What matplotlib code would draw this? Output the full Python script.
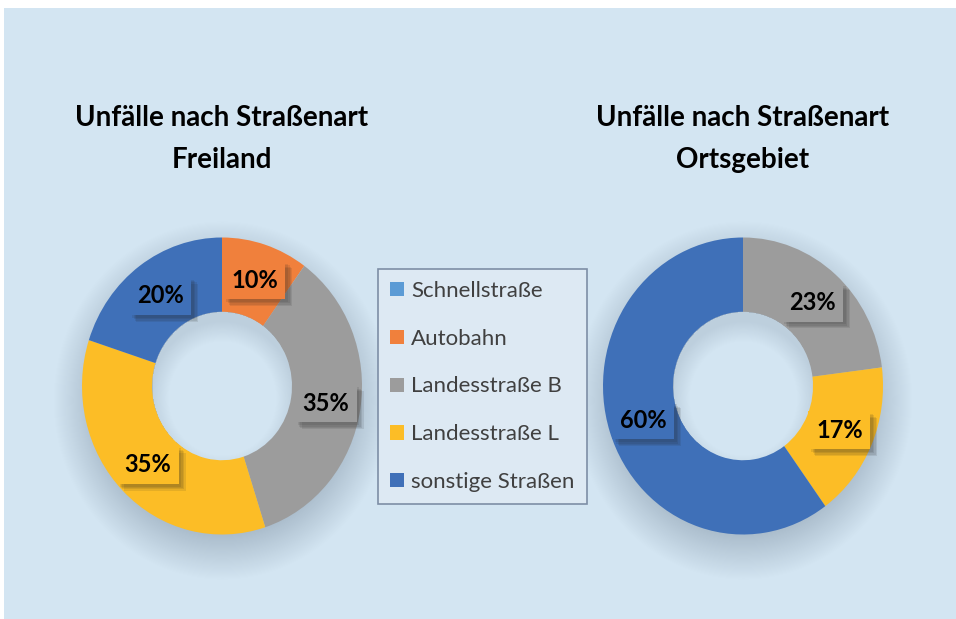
import matplotlib
matplotlib.use('Agg')
import matplotlib.pyplot as plt
import matplotlib.patheffects as pe
from matplotlib.patches import Rectangle
import numpy as np

plt.rcParams['font.family'] = ['Lato', 'DejaVu Sans']

# data
categories = ['Schnellstraße', 'Autobahn', 'Landesstraße B', 'Landesstraße L', 'sonstige Straßen']
colors = ['#5b9bd5', '#f0803c', '#9c9c9c', '#fcbd26', '#3f70b8']
freiland = [0, 10, 35, 35, 20]
ortsgebiet = [0, 0, 23, 17, 60]
titles = [('Unfälle nach Straßenart', 'Freiland'), ('Unfälle nach Straßenart', 'Ortsgebiet')]

W, H = 956, 619
fig = plt.figure(figsize=(W / 100, H / 100), dpi=100)
fig.patch.set_facecolor('white')

# background panel in pixel coords
bg = fig.add_axes([0, 0, 1, 1])
bg.set_xlim(0, W)
bg.set_ylim(H, 0)
bg.axis('off')
bg.add_patch(Rectangle((4, 8), W - 4, H - 8, facecolor='#d3e5f2', edgecolor='none', zorder=0))

centers = [(222, 386), (743, 386)]
rx, ry = 140, 148.5

# soft drop shadow under the rings, light hole with a faint inner shade
yy, xx = np.mgrid[0:H, 0:W]
shade = np.zeros((H, W))
for cx, cy in centers:
    d = np.sqrt(((xx - cx) / (rx * 1.08)) ** 2 + ((yy - cy - 14) / (ry * 1.08)) ** 2)
    outer = np.clip((1.12 - d) / 0.3, 0, 1) * 0.35
    d0 = np.sqrt(((xx - cx) / rx) ** 2 + ((yy - cy) / ry) ** 2)
    dh = np.sqrt(((xx - cx) / rx) ** 2 + ((yy - cy - 12) / ry) ** 2)
    inner = np.clip((dh - 0.38) / 0.14, 0, 1) * 0.18
    outer = np.where(d0 < 0.5, inner, outer)
    shade = np.maximum(shade, outer)
img = np.zeros((H, W, 4))
img[..., 0] = 0.35
img[..., 1] = 0.42
img[..., 2] = 0.50
img[..., 3] = shade
bg.imshow(img, extent=(0, W, H, 0), zorder=1, interpolation='bilinear')

box_shadow = [pe.SimplePatchShadow(offset=(k, -k), alpha=0.1, shadow_rgbFace='#222222') for k in (5, 4, 3, 2)]


def donut(values, cx, cy):
    ax = fig.add_axes([(cx - rx) / W, 1 - (cy + ry) / H, 2 * rx / W, 2 * ry / H])
    wedges, texts, autotexts = ax.pie(
        values, colors=colors, startangle=90, counterclock=False, radius=1,
        wedgeprops=dict(width=0.5, linewidth=0),
        autopct=lambda p: f'{p:.0f}%' if p > 0.5 else '', pctdistance=0.75,
        textprops=dict(fontsize=17, fontweight='bold', color='black'))
    ax.set_xlim(-1, 1)
    ax.set_ylim(-1, 1)
    ax.set_aspect('auto')
    ax.axis('off')
    for w, t in zip(wedges, autotexts):
        if t.get_text():
            t.set_bbox(dict(boxstyle='square,pad=0.32', facecolor=w.get_facecolor(), edgecolor='none'))
            t.get_bbox_patch().set_path_effects(box_shadow + [pe.Normal()])
    return wedges


w1 = donut(freiland, *centers[0])
donut(ortsgebiet, *centers[1])

for (cx, cy), (l1, l2) in zip(centers, titles):
    fig.text(cx / W, 1 - 118 / H, l1, ha='center', va='center', fontsize=20, fontweight='bold', color='black')
    fig.text(cx / W, 1 - 160 / H, l2, ha='center', va='center', fontsize=20, fontweight='bold', color='black')

leg = fig.legend(w1, categories, loc='center', bbox_to_anchor=(482.5 / W, 1 - 386.5 / H),
                 fontsize=16, labelspacing=1.25, handlelength=0.6, handleheight=0.6,
                 handletextpad=0.35, borderpad=0.55, borderaxespad=0, fancybox=False, framealpha=1,
                 facecolor='#dde9f3', edgecolor='#7d8ea6')
leg.get_frame().set_linewidth(1.2)
for t in leg.get_texts():
    t.set_color('#404040')

plt.savefig('out.png', dpi=100)
